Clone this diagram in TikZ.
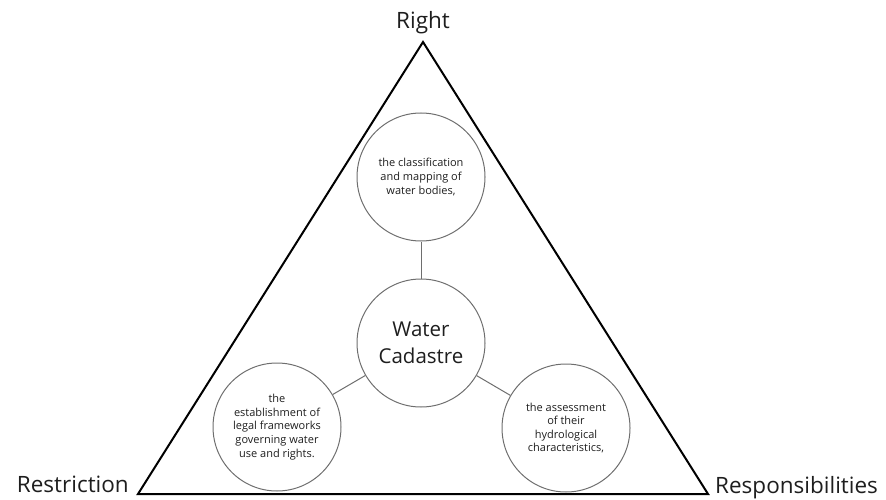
\documentclass[tikz,border=0pt]{standalone}
\usepackage{fontspec}
\setmainfont{Open Sans}
\definecolor{ringgray}{HTML}{6E6E6E}
\definecolor{txt}{HTML}{1E1E1E}
\begin{document}
\begin{tikzpicture}[x=1pt,y=-1pt,
  bubble/.style={circle, draw=ringgray, line width=1pt, minimum size=128pt, inner sep=0pt, align=center, text=txt, font=\fontsize{11}{13.6}\selectfont},
  bigbubble/.style={bubble, font=\fontsize{20.5}{27}\selectfont},
  corner/.style={text=txt, font=\fontsize{22.5}{27}\selectfont, inner sep=0pt},
  tri/.style={draw=black, line width=2pt, line join=miter},
  link/.style={draw=ringgray, line width=1pt}]
\useasboundingbox (0,0) rectangle (886,500);
\coordinate (A) at (423,42);
\coordinate (B) at (138,494);
\coordinate (C) at (708,494);
\draw[tri] (A) -- (B) -- (C) -- cycle;
\node[corner, anchor=base] (right) at (423,29) {Right};
\node[corner, anchor=base east] (restr) at (129,492) {Restriction};
\node[corner, anchor=base west] (resp) at (715,493) {Responsibilities};
\node[bigbubble] (wc) at (421,343) {Water\\Cadastre};
\node[bubble] (top) at (421,177) {the classification\\and mapping of\\water bodies,};
\node[bubble] (left) at (277,427) {the\\establishment of\\legal frameworks\\governing water\\use and rights.};
\node[bubble] (rgt) at (566,428) {the assessment\\of their\\hydrological\\characteristics,};
\draw[link] (wc) -- (top);
\draw[link] (wc) -- (left);
\draw[link] (wc) -- (rgt);
\end{tikzpicture}
\end{document}
